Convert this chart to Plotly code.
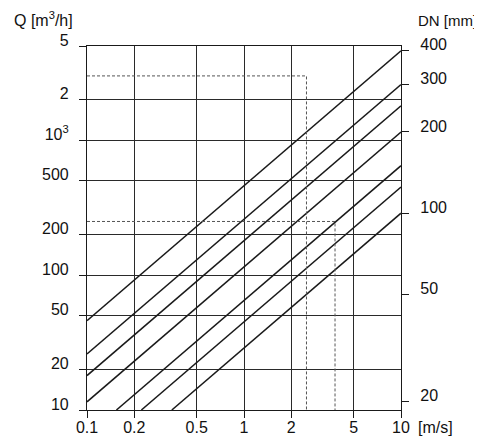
import math
import plotly.graph_objects as go

# velocity axis [m/s] and flow axis [m3/h]
x_ticks = [0.1, 0.2, 0.5, 1, 2, 5, 10]
x_labels = ["0.1", "0.2", "0.5", "1", "2", "5", "10"]
q_ticks = [10, 20, 50, 100, 200, 500, 1000, 2000, 5000]
q_labels = ["10", "20", "50", "100", "200", "500", "10<sup>3</sup>", "2", "5"]

# nominal diameters on the right scale
dn_ticks = [20, 50, 100, 200, 300, 400]

# diagonal pipe lines: visible start/end points
dn_lines = [100, 125, 150, 200, 250, 300, 400]
v_start = [0.347, 0.222, 0.154, 0.1, 0.1, 0.1, 0.1]
q_start = [10, 10, 10, 11.5, 18, 26, 46]
v_end = [10, 10, 10, 10, 10, 10, 10]
q_end = [288, 450, 648, 1150, 1800, 2590, 4600]

# dashed reading examples
dash_q = [3000, 250]
dash_v = [2.5, 3.8]

FONT = "Liberation Sans, Arial, sans-serif"
INK = "#1a1a1a"

fig = go.Figure()

for dn, x0, y0, x1, y1 in zip(dn_lines, v_start, q_start, v_end, q_end):
    fig.add_trace(go.Scatter(x=[x0, x1], y=[y0, y1], mode="lines",
                             line=dict(color=INK, width=1.5),
                             name=f"DN {dn}", hoverinfo="skip"))

for q, v in zip(dash_q, dash_v):
    fig.add_trace(go.Scatter(x=[0.1, v, v], y=[q, q, 10], mode="lines",
                             line=dict(color="#555", width=1, dash="3px,2px"),
                             hoverinfo="skip"))

# dummy trace so the DN axis is drawn
fig.add_trace(go.Scatter(x=[1], y=[100], yaxis="y2", mode="markers",
                         marker=dict(opacity=0), hoverinfo="skip"))

# DN scale: Q at about 10 m/s is proportional to DN^2
k = 0.0288
dn_lo = math.sqrt(q_ticks[0] / k)
dn_hi = math.sqrt(q_ticks[-1] / k)

axis_common = dict(showline=True, linecolor=INK, linewidth=1.2, automargin=False,
                   ticks="outside", ticklen=7, tickcolor=INK, tickwidth=1.2,
                   zeroline=False,
                   tickfont=dict(family=FONT, size=16, color="#111"))

# page body adds an 8px offset, so the figure is drawn 8px smaller
fig.update_layout(
    width=474, height=431,
    margin=dict(l=79, r=81, t=38, b=29),
    paper_bgcolor="white", plot_bgcolor="white",
    showlegend=False,
    xaxis=dict(type="log", range=[math.log10(0.1), math.log10(10)],
               tickvals=x_ticks, ticktext=x_labels, mirror=True,
               gridcolor="#2a2a2a", gridwidth=1,
               ticklabelstandoff=-4, **axis_common),
    yaxis=dict(type="log", range=[math.log10(q_ticks[0]), math.log10(q_ticks[-1])],
               tickvals=q_ticks, ticktext=q_labels, mirror=True,
               gridcolor="#2a2a2a", gridwidth=1,
               ticklabelshift=-6, ticklabelstandoff=7, **axis_common),
    yaxis2=dict(type="log", range=[math.log10(dn_lo), math.log10(dn_hi)],
                overlaying="y", side="right", tickvals=dn_ticks,
                showgrid=False, ticklabelshift=-6, ticklabelstandoff=8,
                **axis_common),
)

fig.add_annotation(text="Q [m<sup>3</sup>/h]", xref="paper", yref="paper",
                   x=0.0, y=1.0, xshift=-75, yshift=27, xanchor="left", yanchor="middle",
                   showarrow=False, font=dict(family=FONT, size=16, color="#111"))
fig.add_annotation(text="DN [mm]", xref="paper", yref="paper",
                   x=1.0, y=1.0, xshift=15, yshift=26, xanchor="left", yanchor="middle",
                   showarrow=False, font=dict(family=FONT, size=15, color="#111"))
fig.add_annotation(text="[m/s]", xref="paper", yref="paper",
                   x=1.0, y=0.0, xshift=15, yshift=-17, xanchor="left", yanchor="middle",
                   showarrow=False, font=dict(family=FONT, size=16, color="#111"))

fig.write_html("out.html")
